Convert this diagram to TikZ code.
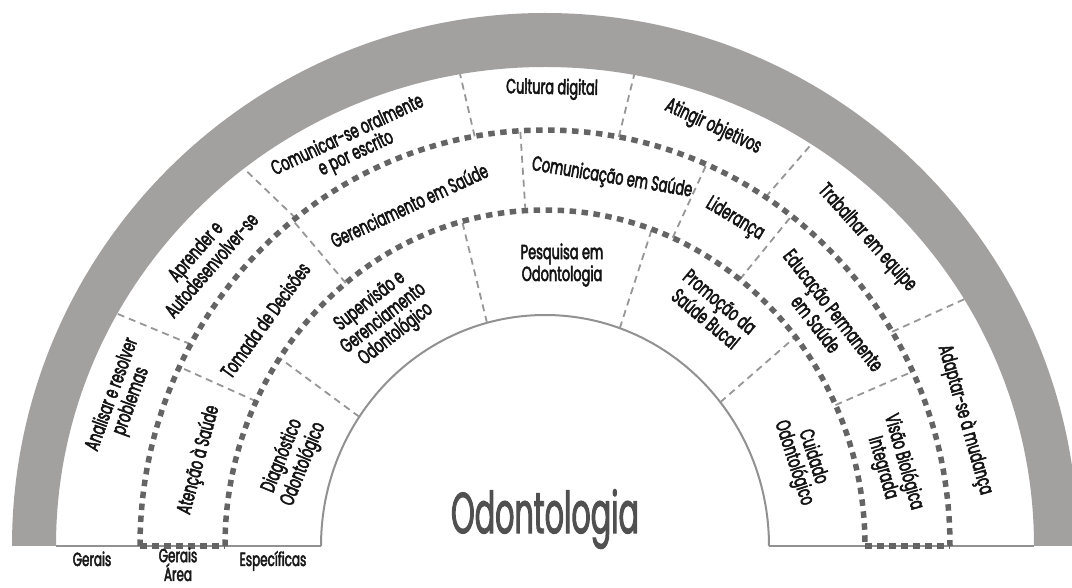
\documentclass[tikz,border=0pt]{standalone}
\usepackage{fontspec}
\setmainfont{Poppins}[FakeStretch=0.63, FakeBold=2.6]
\newfontfamily\titlefont{Poppins}[FakeStretch=0.52, FakeBold=1.6]
\usetikzlibrary{calc}
\definecolor{bandgray}{RGB}{163,160,160}
\definecolor{ringgray}{RGB}{100,100,100}
\definecolor{sepgray}{RGB}{150,150,150}
\definecolor{basegray}{RGB}{145,145,145}
\definecolor{titlegray}{RGB}{80,80,80}
\tikzset{
	comp/.style = {align=center, inner sep=0pt, text=black!92, font=\fontsize{20.5}{20}\selectfont},
	catname/.style = {align=center, inner sep=0pt, anchor=base, text=black!90, font=\fontsize{19}{15}\selectfont},
	ringline/.style = {draw=ringgray, line width=5.5pt, dash pattern=on 6.5pt off 5.5pt},
	sepline/.style = {draw=sepgray, line width=1.8pt, dash pattern=on 7pt off 5pt},
	baseline/.style = {draw=basegray, line width=2pt}
}

\begin{document}
\begin{tikzpicture}[x=1pt, y=1pt]
		\useasboundingbox (0,0) rectangle (1072,587);
		\coordinate (C) at (545,41);

		\fill[bandgray] ($(C)+(-533,0)$) arc[start angle=180, end angle=0, x radius=533pt, y radius=533pt]
			-- ($(C)+(489,0)$) arc[start angle=0, end angle=180, x radius=489pt, y radius=479pt] -- cycle;

		\draw[baseline] ($(C)+(-489,0)$) -- ($(C)+(-224,0)$);
		\draw[baseline] ($(C)+(224,0)$) -- ($(C)+(489,0)$);
		\draw[baseline] ($(C)+(-224,0)$) arc[start angle=180, end angle=0, x radius=224pt, y radius=231pt];

		\foreach \a in {151,128,100,79.5,57,31}
			\draw[sepline] ($(C)+(\a:405pt and 416pt)$) -- ($(C)+(\a:489pt and 479pt)$);
		\foreach \a in {154.5,128.5,93.5,66.5,52.5,24.8}
			\draw[sepline] ($(C)+(\a:320pt and 336pt)$) -- ($(C)+(\a:405pt and 416pt)$);
		\foreach \a in {146,105,70.5,38.5}
			\draw[sepline] ($(C)+(\a:224pt and 231pt)$) -- ($(C)+(\a:320pt and 336pt)$);

		\draw[ringline] ($(C)+(-405,0)$) arc[start angle=180, end angle=0, x radius=405pt, y radius=416pt];
		\draw[ringline] ($(C)+(-320,0)$) arc[start angle=180, end angle=0, x radius=320pt, y radius=336pt];
		\draw[ringline] ($(C)+(-405,0)$) -- ($(C)+(-320,0)$);
		\draw[ringline] ($(C)+(320,0)$) -- ($(C)+(405,0)$);

		\node[comp, rotate=70] (analisar) at (122,189) {Analisar e resolver\\problemas};
		\node[comp, rotate=49] (aprender) at (203,329) {Aprender e\\Autodesenvolver-se};
		\node[comp, rotate=25] (comunicar) at (352,442) {Comunicar-se oralmente\\e por escrito};
		\node[comp, rotate=-1] (cultura) at (552,498) {Cultura digital};
		\node[comp, rotate=-25] (atingir) at (713,460) {Atingir objetivos};
		\node[comp, rotate=-48] (trabalhar) at (867,349) {Trabalhar em equipe};
		\node[comp, rotate=-74] (adaptar) at (965,167) {Adaptar-se à mudança};

		\node[comp, rotate=75] (atencao) at (199,127) {Atenção à Saúde};
		\node[comp, rotate=54] (tomada) at (265,267) {Tomada de Decisões};
		\node[comp, rotate=25] (gerenciamento) at (409,382) {Gerenciamento em Saúde};
		\node[comp, rotate=-9.5] (comsaude) at (612,409) {Comunicação em Saúde};
		\node[comp, rotate=-31] (lideranca) at (735,368) {Liderança};
		\node[comp, rotate=-52] (educacao) at (825,270) {Educação Permanente\\em Saúde};
		\node[comp, rotate=-74] (visao) at (893,122) {Visão Biológica\\Integrada};

		\node[comp, rotate=68] (diagnostico) at (293,127) {Diagnóstico\\Odontológico};
		\node[comp, rotate=38] (supervisao) at (383,269) {Supervisão e\\Gerenciamento\\Odontológico};
		\node[comp] (pesquisa) at (562,322) {Pesquisa em\\Odontologia};
		\node[comp, rotate=-40] (promocao) at (713,277) {Promoção da\\Saúde Bucal};
		\node[comp, rotate=-72] (cuidado) at (803,127) {Cuidado\\Odontológico};

		\node[inner sep=0pt, text=titlegray, font=\titlefont\fontsize{58}{58}\selectfont] (odonto) at (545,68) {Odontologia};

		\node[catname] (gerais) at (92,21) {Gerais};
		\node[catname] (geraisarea) at (178,6) {Gerais\\Área};
		\node[catname] (especificas) at (273,21) {Específicas};
\end{tikzpicture}
\end{document}
